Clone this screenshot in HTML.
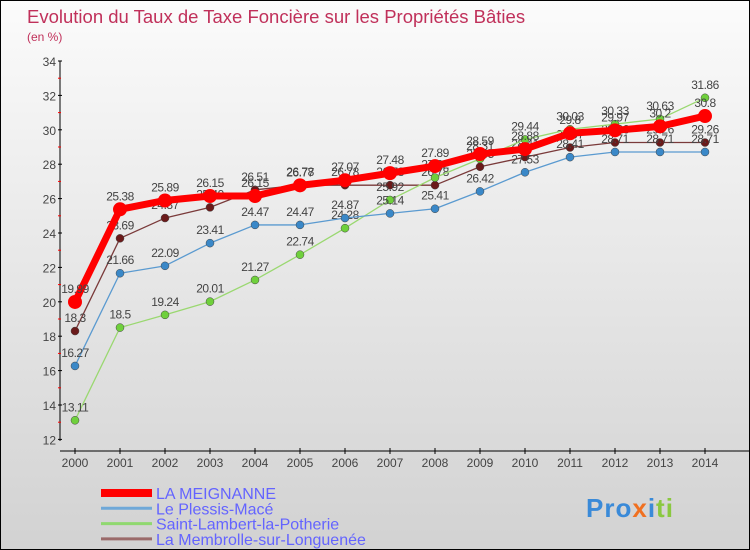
<!DOCTYPE html>
<html><head><meta charset="utf-8"><style>
body{margin:0}
#wrap{position:relative;width:748px;height:548px;border:1px solid #000;background:linear-gradient(#fbfbfb,#d2d2d2);overflow:hidden;font-family:"Liberation Sans",sans-serif}
</style></head><body>
<div id="wrap">
<svg id="c" width="748" height="548"></svg>
</div>
<script>
const years=["2000","2001","2002","2003","2004","2005","2006","2007","2008","2009","2010","2011","2012","2013","2014"];
const yTicks=[12,14,16,18,20,22,24,26,28,30,32,34];
const meignanne=[19.99,25.38,25.89,26.15,26.15,26.77,27.07,27.48,27.89,28.59,28.88,29.8,29.97,30.2,30.8];
const plessis=[16.27,21.66,22.09,23.41,24.47,24.47,24.87,25.14,25.41,26.42,27.53,28.41,28.71,28.71,28.71];
const lambert=[13.11,18.5,19.24,20.01,21.27,22.74,24.28,25.92,27.22,28.31,29.44,30.03,30.33,30.63,31.86];
const membrolle=[18.3,23.69,24.87,25.49,26.51,26.78,26.78,26.78,26.78,27.85,28.41,28.97,29.26,29.26,29.26];
const seriesNames=["LA MEIGNANNE","Le Plessis-Macé","Saint-Lambert-la-Potherie","La Membrolle-sur-Longuenée"];

const NS="http://www.w3.org/2000/svg",svg=document.getElementById('c');
const X=i=>74+i*45, Y=v=>60+(34-v)*17.2;
function el(t,a,p){const e=document.createElementNS(NS,t);for(const k in a)e.setAttribute(k,a[k]);(p||svg).appendChild(e);return e;}
function txt(x,y,s,a){const e=el('text',Object.assign({x:x,y:y},a));e.textContent=s;return e;}
let t=txt(26,22,"Evolution du Taux de Taxe Foncière sur les Propriétés Bâties",{fill:"#c0305a","font-size":"18.5"});

t=txt(26,40,"(en %)",{fill:"#c0305a","font-size":"12"});

let ax=el('line',{x1:59,y1:60,x2:59,y2:440,stroke:"#000","stroke-width":1});

yTicks.forEach((v,i)=>{el('line',{x1:57,y1:Y(v),x2:61,y2:Y(v),stroke:"#000"});
 if(i<yTicks.length-1)el('line',{x1:57,y1:Y(v+1),x2:60,y2:Y(v+1),stroke:"#f00"});
 const l=txt(55,Y(v)+5,String(v),{fill:"#444","font-size":"12","text-anchor":"end"});
 });
ax=el('line',{x1:59,y1:450,x2:748,y2:450,stroke:"#000"});

years.forEach((y,i)=>{el('line',{x1:X(i),y1:447,x2:X(i),y2:453,stroke:"#000"});
 const l=txt(X(i),466,y,{fill:"#444","font-size":"12","text-anchor":"middle"});
 });
const S=[
 {d:membrolle,c:"#6b1a1a",lc:"#7a3a3a",w:1.3,r:4,n:"membrolle"},
 {d:lambert,c:"#6fd03c",lc:"#9ad870",w:1.3,r:4,n:"lambert"},
 {d:plessis,c:"#3a88c8",lc:"#5a9ad0",w:1.3,r:4,n:"plessis"},
 {d:meignanne,c:"#f00",lc:"#f00",w:7,r:7,n:"meignanne"}];
S.forEach(s=>{const g=el('g',{});
 el('polyline',{points:s.d.map((v,i)=>X(i)+","+Y(v)).join(" "),fill:"none",stroke:s.lc,"stroke-width":s.w,"stroke-linejoin":"round"},g);
 s.d.forEach((v,i)=>{const p=el('circle',{cx:X(i),cy:Y(v),r:s.r,fill:s.c,stroke:s.n=="meignanne"?"none":"#444","stroke-width":0.5},g);
  
  const l=txt(X(i),Y(v)-9,String(v),{fill:"#444","font-size":"12","text-anchor":"middle","letter-spacing":"-0.5"},g);
  });});
const lc=["#f00","#6fa8d8","#90d870","#9a6a6a"],lw=[8,3,3,3];
seriesNames.forEach((n,i)=>{const y=492+i*15.3;const g=el('g',{});
 
 el('line',{x1:100,y1:y,x2:151,y2:y,stroke:lc[i],"stroke-width":lw[i]},g);
 txt(155,y+6,n,{fill:"#6464ff","font-size":"16"},g);});
const lg=txt(585,516,"Proxiti",{fill:"#f0a020","font-size":"26","font-weight":"bold","letter-spacing":"1"});

lg.innerHTML='<tspan fill="#3a8ad8">Pro</tspan><tspan fill="#f07020">x</tspan><tspan fill="#3a8ad8">i</tspan><tspan fill="#8ac840">ti</tspan>';
</script>
</body></html>
